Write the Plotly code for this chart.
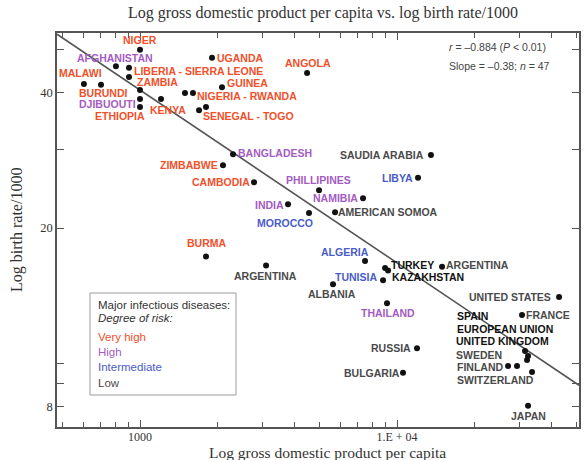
import numpy as np
import plotly.graph_objects as go

# ---------------- data ----------------
countries = ["Niger", "Afghanistan", "Liberia", "Sierra Leone", "Malawi", "Burundi", "Zambia",
             "Djibouti", "Ethiopia", "Kenya", "Nigeria", "Rwanda", "Senegal", "Togo", "Uganda",
             "Guinea", "Angola", "Bangladesh", "Zimbabwe", "Cambodia", "Saudia Arabia", "Libya",
             "Phillipines", "Namibia", "India", "Morocco", "American Somoa", "Burma", "Argentina A",
             "Algeria", "Turkey", "Tunisia", "Kazakhstan", "Argentina B", "Albania", "Thailand",
             "United States", "France", "Russia", "Bulgaria", "Spain", "United Kingdom", "Sweden",
             "European Union", "Finland", "Switzerland", "Japan"]
gdp_per_capita = [1000, 806, 906, 906, 605, 705, 1000,
                  1000, 1000, 1207, 1496, 1607, 1697, 1806, 1906,
                  2084, 4467, 2300, 2103, 2777, 13550, 12070,
                  4972, 7374, 3766, 4545, 5739, 1806, 3093,
                  7508, 8982, 9226, 8822, 14967, 5636, 9141,
                  42700, 30640, 11960, 10550, 31480, 32340, 32050,
                  29300, 27040, 33520, 32340]
birth_rate = [49.9, 45.9, 45.5, 43.4, 41.9, 41.7, 40.6,
              38.8, 37.2, 38.8, 40.0, 40.0, 36.6, 37.2, 47.9,
              41.2, 44.3, 29.2, 27.6, 25.3, 29.1, 25.9,
              24.3, 23.3, 22.6, 21.6, 21.7, 17.3, 16.5,
              16.9, 16.3, 16.1, 15.3, 16.4, 15.0, 13.6,
              14.05, 12.8, 10.8, 9.52, 10.65, 10.38, 10.17,
              9.86, 9.86, 9.56, 8.04]

# regression values
reg_slope = -0.385
reg_at_1000 = 40.6
r_value = "–0.884"
slope_text = "–0.38"
n_points = 47

# labels: (text, anchor country, risk)
labels = [
    ("NIGER", "Niger", "very"), ("AFGHANISTAN", "Afghanistan", "high"),
    ("LIBERIA - SIERRA LEONE", "Liberia", "very"), ("MALAWI", "Malawi", "very"),
    ("ZAMBIA", "Zambia", "very"), ("BURUNDI", "Burundi", "very"),
    ("DJIBUOUTI", "Djibouti", "high"), ("ETHIOPIA", "Ethiopia", "very"),
    ("KENYA", "Kenya", "very"), ("NIGERIA - RWANDA", "Rwanda", "very"),
    ("SENEGAL - TOGO", "Togo", "very"), ("UGANDA", "Uganda", "very"),
    ("GUINEA", "Guinea", "very"), ("ANGOLA", "Angola", "very"),
    ("BANGLADESH", "Bangladesh", "high"), ("ZIMBABWE", "Zimbabwe", "very"),
    ("CAMBODIA", "Cambodia", "very"), ("SAUDIA ARABIA", "Saudia Arabia", "low"),
    ("LIBYA", "Libya", "inter"), ("PHILLIPINES", "Phillipines", "high"),
    ("NAMIBIA", "Namibia", "high"), ("INDIA", "India", "high"),
    ("MOROCCO", "Morocco", "inter"), ("AMERICAN SOMOA", "American Somoa", "low"),
    ("BURMA", "Burma", "very"), ("ARGENTINA", "Argentina A", "low"),
    ("ALGERIA", "Algeria", "inter"), ("TURKEY", "Turkey", "lowb"),
    ("ARGENTINA", "Argentina B", "low"), ("TUNISIA", "Kazakhstan", "inter"),
    ("KAZAKHSTAN", "Kazakhstan", "lowb"), ("ALBANIA", "Albania", "low"),
    ("THAILAND", "Thailand", "high"), ("UNITED STATES", "United States", "low"),
    ("FRANCE", "France", "low"), ("SPAIN", "Spain", "lowb"),
    ("EUROPEAN UNION", "Spain", "lowb"), ("UNITED KINGDOM", "Spain", "lowb"),
    ("SWEDEN", "Spain", "low"), ("FINLAND", "Finland", "low"),
    ("SWITZERLAND", "Switzerland", "low"), ("RUSSIA", "Russia", "low"),
    ("BULGARIA", "Bulgaria", "low"), ("JAPAN", "Japan", "low"),
]
# label offsets in screen pixels (dx right, dy down) relative to anchor dot
label_offsets = [
    (0, -10), (-1, -8), (69, 3), (-3, -11), (17, -8), (2, 8), (-33, 5), (-20, 9),
    (7, 11), (54, 3), (42, 9), (28, 0), (26, -4), (1, -10), (42, -1), (-34, 0),
    (-33, 0), (-49, 0), (-21, 0), (-1, -10), (-28, 0), (-19, 1), (-24, 10), (53, 0),
    (0, -13), (-1, 10), (-20, -9), (27, -3), (35, -2), (-27, -3), (45, -3), (-1, 10),
    (1, 10), (-49, 0), (26, 0), (-53, -35), (-20, -22), (-23, -10), (-46, 4), (-28, 1),
    (-37, 8), (-26, 0), (-31, 0), (0, 10),
]

risk_colors = {"very": "#F0502A", "high": "#A45BC2", "inter": "#4A5CC8",
               "low": "#4a4a4a", "lowb": "#111111"}

legend_items = [("Very high", "very"), ("High", "high"), ("Intermediate", "inter"), ("Low", "low")]

# ---------------- figure ----------------
fig = go.Figure()

x_range = [2.677, 4.708]
y_range = [0.858, 1.7356]

# regression line across the full axis range
line_x = np.array([10 ** x_range[0], 10 ** x_range[1]])
line_y = reg_at_1000 * (line_x / 1000.0) ** reg_slope
fig.add_trace(go.Scatter(x=line_x, y=line_y, mode="lines",
                         line=dict(color="#555555", width=1.6),
                         hoverinfo="skip", showlegend=False, cliponaxis=True))

fig.add_trace(go.Scatter(x=gdp_per_capita, y=birth_rate, mode="markers",
                         marker=dict(color="#111111", size=6),
                         text=countries, showlegend=False, cliponaxis=False))

LABEL_FONT = "Liberation Sans, Arial, sans-serif"
SERIF = "Liberation Serif, Times New Roman, serif"

idx = {c: i for i, c in enumerate(countries)}
annotations = []
for (txt, anchor, risk), (dx, dy) in zip(labels, label_offsets):
    i = idx[anchor]
    annotations.append(dict(
        x=np.log10(gdp_per_capita[i]), y=np.log10(birth_rate[i]), xref="x", yref="y",
        text=f"<b>{txt}</b>", showarrow=False, xshift=dx, yshift=-dy,
        font=dict(family=LABEL_FONT, size=10.5, color=risk_colors[risk]),
        xanchor="center", yanchor="middle"))

W, H = 584, 460
L, R, T, B = 57, 579, 33, 427


def px_to_paper(px, py):
    return (px - L) / (R - L), (B - py) / (B - T)


for txt, (px, py) in [
    (f"<i>r</i> = {r_value} (<i>P</i> &lt; 0.01)", (447, 47)),
    (f"Slope = {slope_text}; <i>n</i> = {n_points}", (447, 66)),
]:
    xp, yp = px_to_paper(px, py)
    annotations.append(dict(x=xp, y=yp, xref="paper", yref="paper", text=txt, showarrow=False,
                            xanchor="left", yanchor="middle",
                            font=dict(family=LABEL_FONT, size=10.5, color="#444444")))

# legend box
lx0, ly0 = px_to_paper(90, 395)
lx1, ly1 = px_to_paper(236, 293)
fig.add_shape(type="rect", xref="paper", yref="paper", x0=lx0, y0=ly0, x1=lx1, y1=ly1,
              line=dict(color="#9a9a9a", width=1), fillcolor="white")
legend_lines = [("Major infectious diseases:", "#333333", 305),
                ("<i>Degree of risk:</i>", "#333333", 318)]
legend_lines += [(name, risk_colors[k], yy) for (name, k), yy in zip(legend_items, [337, 352, 367, 383])]
for txt, col, py in legend_lines:
    xp, yp = px_to_paper(96, py)
    annotations.append(dict(x=xp, y=yp, xref="paper", yref="paper", text=txt, showarrow=False,
                            xanchor="left", yanchor="middle",
                            font=dict(family=LABEL_FONT, size=11.5, color=col)))

# axis titles
xp, yp = px_to_paper(327, 452.5)
annotations.append(dict(x=xp, y=yp, xref="paper", yref="paper", text="Log gross domestic product per capita",
                        showarrow=False, xanchor="center", yanchor="middle",
                        font=dict(family=SERIF, size=15.5, color="#333333")))
xp, yp = px_to_paper(17, 230)
annotations.append(dict(x=xp, y=yp, xref="paper", yref="paper", text="Log birth rate/1000",
                        showarrow=False, xanchor="center", yanchor="middle", textangle=-90,
                        font=dict(family=SERIF, size=16, color="#333333")))

x_major = [1000, 10000]
x_major_text = ["1000", "1.E + 04"]
x_minor = [500, 600, 700, 800, 900, 2000, 3000, 4000, 5000, 6000, 7000, 8000, 9000,
           20000, 30000, 40000, 50000]
y_major = [8, 20, 40]
y_major_text = ["8", "20", "40"]
y_minor = [9, 10, 30, 50]

axis_font = dict(family=SERIF, size=12, color="#333333")
fig.update_xaxes(type="log", range=x_range, tickvals=x_major, ticktext=x_major_text,
                 ticks="inside", ticklen=7, tickwidth=1.2, tickcolor="#555555",
                 minor=dict(tickvals=x_minor, ticks="inside", ticklen=5, tickwidth=1.2, tickcolor="#555555"),
                 showline=True, linecolor="#555555", linewidth=1.6, mirror="ticks",
                 showgrid=False, zeroline=False, tickfont=axis_font, automargin=False,
                 ticklabelstandoff=-2)
fig.update_yaxes(type="log", range=y_range, tickvals=y_major, ticktext=y_major_text,
                 ticks="inside", ticklen=7, tickwidth=1.2, tickcolor="#555555",
                 minor=dict(tickvals=y_minor, ticks="inside", ticklen=7, tickwidth=1.2, tickcolor="#555555"),
                 showline=True, linecolor="#555555", linewidth=1.6, mirror="ticks",
                 showgrid=False, zeroline=False, tickfont=dict(family=SERIF, size=12.5, color="#333333"),
                 automargin=False)

fig.update_layout(
    width=W, height=H,
    margin=dict(l=L, r=W - R, t=T, b=H - B, autoexpand=False),
    paper_bgcolor="white", plot_bgcolor="white",
    title=dict(text="Log gross domestic product per capita vs. log birth rate/1000",
               x=323 / W, y=1 - 12 / H, xref="container", yref="container",
               xanchor="center", yanchor="middle",
               font=dict(family=SERIF, size=16, color="#333333")),
    annotations=annotations,
    showlegend=False,
)

fig.write_html("out.html", config={"displayModeBar": False},
               post_script="document.body.style.margin='0px';")
